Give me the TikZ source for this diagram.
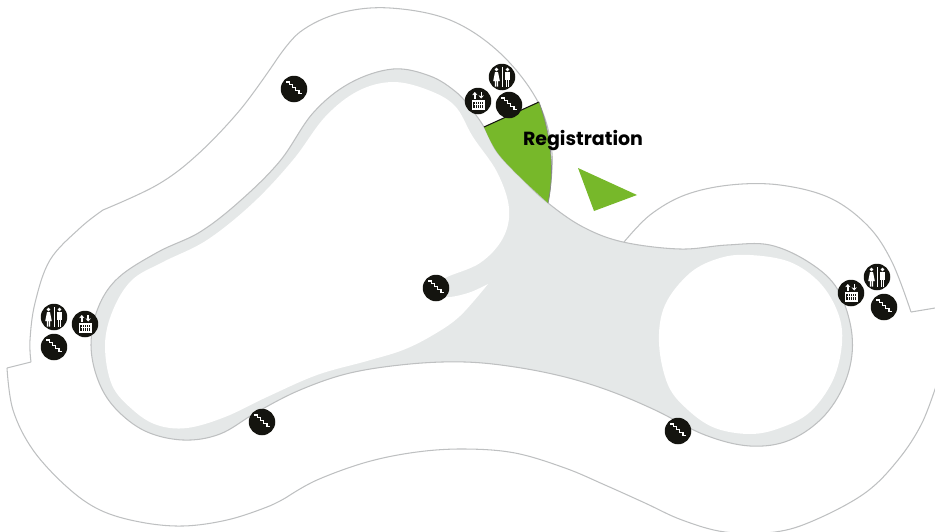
\documentclass[tikz,border=0pt]{standalone}
\usepackage{fontspec}
\setmainfont{Poppins}
\usetikzlibrary{arrows.meta}
\definecolor{bandgrey}{HTML}{E5E8E8}
\definecolor{edgegrey}{HTML}{BEC0C1}
\definecolor{regreen}{HTML}{77B82A}
\definecolor{iconblack}{HTML}{14140F}
\tikzset{
	outline/.style={draw=edgegrey, line width=0.6pt, line join=round},
	badge/.style={circle, fill=iconblack, minimum size=0.53cm, inner sep=0pt},
	stairs/.pic={
		\draw[white, line width=0.7pt] (-8,-7) -- ++(3.4,0) -- ++(0,2.8) -- ++(3.2,0) -- ++(0,2.8) -- ++(3.2,0) -- ++(0,2.8) -- ++(3.2,0) -- ++(0,2.8) -- ++(3.4,0);
	},
	toilets/.pic={
		\fill[white] (-0.5,-10) rectangle (0.5,10);
		% woman
		\fill[white] (-5.5,-7.5) circle (1.9);
		\fill[white] (-7,-5) -- (-4,-5) -- (-2.2,4) -- (-3.9,4) -- (-3.9,9.5) -- (-5.1,9.5) -- (-5.1,4) -- (-5.9,4) -- (-5.9,9.5) -- (-7.1,9.5) -- (-7.1,4) -- (-8.8,4) -- cycle;
		% man
		\fill[white] (5.5,-7.5) circle (1.9);
		\fill[white] (2.6,-5) rectangle (8.4,2.5);
		\fill[white] (3.6,2) rectangle (5.2,9.5);
		\fill[white] (5.8,2) rectangle (7.4,9.5);
	},
	lift/.pic={
		\fill[white] (-6.5,-1.5) rectangle (6.5,8.5);
		\fill[iconblack] (-5,0.5) rectangle (5,7);
		\foreach \n in {-3,-1,1,3}{
			\draw[white, line width=0.45pt] (\n,1) -- (\n,6.5);
		}
		\draw[white, line width=0.35pt] (-4.5,3.7) -- (4.5,3.7);
		\draw[white, line width=0.8pt, -{Stealth[length=1.8pt,width=3pt]}] (-3.2,-2.5) -- (-3.2,-9);
		\draw[white, line width=0.8pt, -{Stealth[length=1.8pt,width=3pt]}] (3.2,-9) -- (3.2,-2.5);
	}
}
\begin{document}
\begin{tikzpicture}[x=0.02cm, y=-0.02cm]
	\useasboundingbox (0,0) rectangle (935,531);
	
	% Building outline
	\draw[outline] plot[smooth, tension=0.6] coordinates {(31,362) (30,340) (35,303) (50,260) (80,228) (103,210)};
	\draw[outline] plot[smooth, tension=0.6] coordinates {(103,210) (157,185) (197,155) (240,110) (275,62)};
	\draw[outline] plot[smooth, tension=0.6] coordinates {(275,62) (300,32) (340,13) (390,8) (450,20) (500,53) (538,102) (552,153) (548,203)};
	\draw[outline] (7,368) -- (31,362);
	\draw[outline] plot[smooth, tension=0.6] coordinates {(7,368) (13,410) (33,450) (67,487) (100,510) (140,522) (183,526) (227,520) (267,507) (287,497)};
	\draw[outline] plot[smooth, tension=0.6] coordinates {(287,497) (317,480) (367,462) (417,452) (465,449) (515,453) (565,468) (605,485) (645,503) (682,520) (725,532) (775,532) (815,520) (865,493) (898,460) (922,423) (938,380)};
	\draw[outline] plot[smooth, tension=0.6] coordinates {(624,242) (650,215) (685,195) (730,185) (780,185) (830,198) (868,226) (892,262) (911,312)};
	\draw[outline] (911,312) -- (935,308);
	
	% Corridor
	\filldraw[fill=bandgrey, outline] plot[smooth cycle, tension=0.6] coordinates {(548,203) (583,227) (623,242) (680,249) (727,245) (770,245) (810,263) (838,290) (852,335) (847,377) (825,415) (790,440) (750,446) (705,435) (655,410) (610,391) (565,377) (515,367) (465,362) (410,364) (350,373) (300,390) (257,412) (220,434) (183,440) (145,431) (115,408) (98,380) (91,345) (98,308) (118,278) (158,252) (200,232) (240,201) (280,161) (313,113) (350,83) (393,69) (430,76) (456,92) (472,110) (484,127) (497,152) (520,177)};
	
	% Holes
	\fill[white] plot[smooth, tension=0.6] coordinates {(488,284) (468,293) (445,297) (436,288) (445,278) (480,263) (503,238) (509,208) (497,172) (473,137) (455,106) (428,90) (393,82) (358,91) (325,117) (293,160) (253,203) (207,240) (163,262) (132,280) (113,310) (105,345) (112,385) (133,410) (157,425) (187,428) (225,417) (267,397) (317,375) (367,361) (403,350) (433,335) (460,316) (488,284)} -- cycle;
	\fill[white] plot[smooth cycle, tension=0.6] coordinates {(659,343) (665,305) (690,273) (720,258) (750,255) (790,262) (820,283) (838,313) (842,343) (833,380) (810,412) (780,428) (750,434) (715,428) (688,410) (668,385)};
	
	% Registration
	\fill[regreen] plot[smooth, tension=0.6] coordinates {(484,127) (497,152) (520,177) (548,203)} .. controls (555,170) and (551,135) .. (539,102) -- cycle;
	\draw[iconblack, line width=0.6pt] (484,127) -- (539,102);
	\draw[edgegrey!70!black, line width=0.4pt] (539,102) .. controls (551,135) and (555,170) .. (548,203);
	\fill[regreen] (578,168) -- (637,195) -- (594,211) -- cycle;
	\node[font=\bfseries\fontsize{10.8}{13}\selectfont, text=black] (registration) at (583,141) {Registration};
	
	% Icons
	\foreach \x/\y in {294/89, 509/105, 54/347, 884/307, 436/288, 262/422, 678/431}{
		\node[badge] at (\x,\y) {};
		\pic at (\x,\y) {stairs};
	}
	\foreach \x/\y in {502/77, 54/317, 877/277}{
		\node[badge] at (\x,\y) {};
		\pic at (\x,\y) {toilets};
	}
	\foreach \x/\y in {478/101, 85/324, 851/293}{
		\node[badge] at (\x,\y) {};
		\pic at (\x,\y) {lift};
	}
\end{tikzpicture}
\end{document}
